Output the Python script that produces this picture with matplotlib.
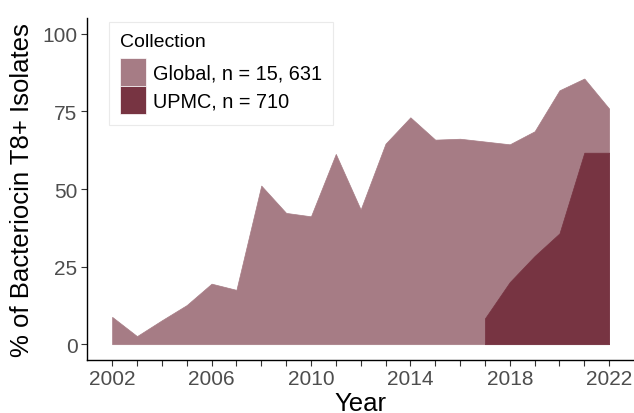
import matplotlib
matplotlib.use("Agg")
import matplotlib.pyplot as plt
from matplotlib.patches import Patch

plt.rcParams['font.family'] = ['Liberation Sans', 'DejaVu Sans']

years_global = [2002, 2003, 2004, 2005, 2006, 2007, 2008, 2009, 2010, 2011, 2012,
                2013, 2014, 2015, 2016, 2017, 2018, 2019, 2020, 2021, 2022]
pct_global = [8.8, 2.6, 7.7, 12.6, 19.5, 17.5, 51.1, 42.3, 41.2, 61.3, 43.4,
              64.6, 73.1, 65.9, 66.2, 65.3, 64.4, 68.6, 81.8, 85.6, 75.9]
years_upmc = [2017, 2018, 2019, 2020, 2021, 2022]
pct_upmc = [8.3, 20.0, 28.4, 35.7, 61.7, 61.7]

labels = ["Global, n = 15, 631", "UPMC, n = 710"]
colors = ["#A67C85", "#773442"]
yticks = [0, 25, 50, 75, 100]
xticks = [2002, 2006, 2010, 2014, 2018, 2022]

W, H = 634, 414
fig = plt.figure(figsize=(W / 100, H / 100), dpi=100)
ax = fig.add_axes([87.3 / W, 1 - 360.7 / H, (634 - 87.3) / W, (360.7 - 19.3) / H])

ax.fill_between(years_global, 0, pct_global, color=colors[0], linewidth=0.5, edgecolor=colors[0])
ax.fill_between(years_upmc, 0, pct_upmc, color=colors[1], linewidth=0.5, edgecolor=colors[1])

ax.set_xlim(2001, 2023)
ax.set_ylim(-5, 105)
ax.set_xticks(xticks)
ax.set_xticks(range(2002, 2023), minor=True)
ax.set_yticks(yticks)
ax.tick_params(axis='both', which='both', length=4, width=0.8, color='#333333',
               labelsize=15, labelcolor='#4D4D4D', pad=3)
ax.tick_params(axis='both', which='minor', length=4)

for s in ['top', 'right']:
    ax.spines[s].set_visible(False)
for s in ['left', 'bottom']:
    ax.spines[s].set_linewidth(1.0)
    ax.spines[s].set_color('black')

ax.set_xlabel("Year", fontsize=18.5, labelpad=2)
ax.set_ylabel("% of Bacteriocin T8+ Isolates", fontsize=18.5, labelpad=6)

handles = [Patch(facecolor=colors[0], edgecolor='white', linewidth=0.5),
           Patch(facecolor=colors[1], edgecolor='white', linewidth=0.5)]
leg = ax.legend(handles, labels, title="Collection", loc='upper left',
                bbox_to_anchor=(108.7 / W, 1 - 22.7 / H), bbox_transform=fig.transFigure,
                fontsize=14.3, title_fontsize=14, frameon=True, fancybox=False,
                edgecolor='#E5E5E5', handlelength=1.33, handleheight=1.8,
                labelspacing=0.0, handletextpad=0.35, borderpad=0.55,
                borderaxespad=0)
leg._legend_box.align = "left"
leg._legend_box.sep = 6
leg.get_frame().set_linewidth(0.8)

fig.savefig("out.png", dpi=100)
